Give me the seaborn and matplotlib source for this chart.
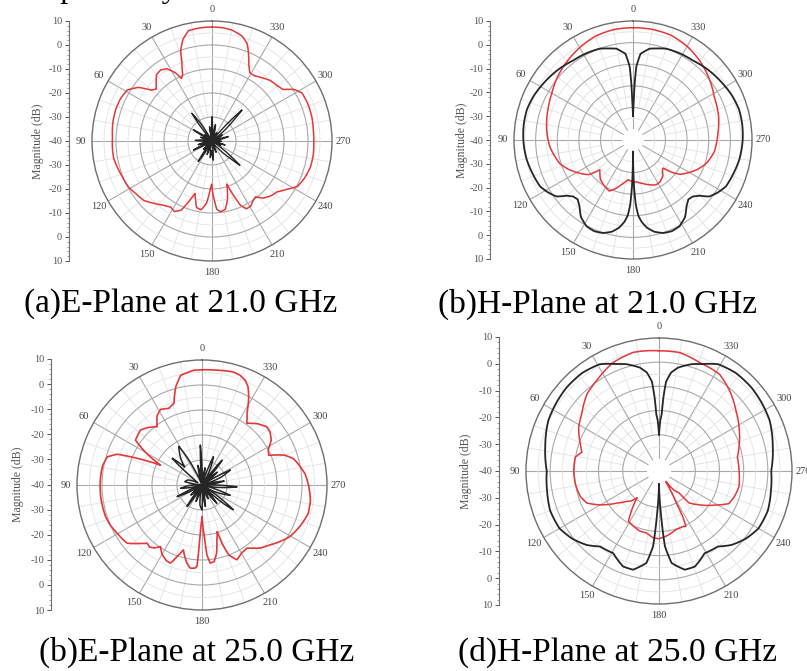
import numpy as np
import matplotlib
matplotlib.use("Agg")
import matplotlib.pyplot as plt
import seaborn as sns
from matplotlib.ticker import FixedLocator

# ---------------- data (angle in degrees, magnitude in dB) ----------------
e21_red_ang = [0, 6, 12, 16, 19, 21, 24, 26, 28, 32, 36, 40, 44, 47, 50, 54, 59, 65, 72, 80, 88, 95,
               100, 105, 112, 119, 125, 131, 137, 143, 148, 152, 156, 159, 162, 164, 167, 171, 175,
               178, 179.5, 181, 184, 187, 191, 195, 199, 201, 204, 207, 211, 215, 218, 222, 227, 232,
               237, 242, 248, 255, 262, 270, 277, 284, 292, 298, 302, 306, 310, 316, 322, 327, 331,
               334, 337, 340, 344, 350, 355, 360]
e21_red_val = [7.5, 7.4, 7.0, 4, 0, -5, -10, -11, -8, -4.5, -3.5, -4, -6.5, -8.3, -7, -2, 1.2, 2.0, 2.2,
               2.0, 1.5, 1.6, 1.6, 1.0, 0.2, -0.3, -1.5, -2.3, -4.5, -6.5, -7.5, -6.7, -8.5, -13, -17,
               -15, -11.5, -11, -14, -20, -22, -18, -11.5, -10.3, -11, -15, -21, -17, -10.5, -8.3, -8.5,
               -10, -10.5, -8, -6.5, -5.6, -3, 0.3, 1.5, 2.4, 2.6, 2.4, 2.5, 2.8, 2.8, 2.5, 0.5, -3.5,
               -4.3, -5, -6.5, -7.6, -7.5, -5, -1, 3, 5.5, 7, 7.4, 7.5]

e21_blk_ang = [0, 3, 6, 10, 14, 22, 30, 33, 36, 38, 41, 50, 55, 59, 62, 66, 72, 78, 88, 94, 105, 110,
               114, 116, 119, 124, 135, 140, 144, 146, 149, 154, 160, 166, 174, 179, 184, 189, 200,
               208, 220, 226, 229, 231, 236, 245, 250, 253, 257, 268, 276, 285, 290, 300, 306, 313,
               316, 318, 322, 330, 338, 348, 354, 360]
e21_blk_val = [-30, -36, -40, -34, -40, -38, -40, -31, -25.7, -31, -40, -36, -38, -31, -36, -40, -35,
               -40, -33, -40, -34, -40, -34, -31.4, -36, -40, -35, -40, -33, -29.7, -35, -40, -34, -40,
               -33, -36, -32, -40, -35, -40, -36, -30, -24.6, -30, -40, -36, -40, -34.3, -40, -36, -40,
               -33, -40, -35, -40, -29, -22, -29, -40, -36, -40, -33, -40, -30]

h21_red_ang = [0, 10, 20, 30, 40, 50, 60, 70, 83, 95, 108, 115, 122, 128, 132, 136, 140, 143, 148, 155,
               160, 165, 170, 173, 177, 180, 185, 192, 200, 207, 213, 220, 224, 227, 230, 234, 238, 245,
               252, 262, 274, 285, 298, 310, 320, 330, 340, 350, 360]
h21_red_val = [6.9, 6.8, 6.0, 4.3, 2.4, 0.5, -1.7, -3.2, -4.8, -6.5, -9.5, -12.5, -16, -19, -24.4, -23,
               -21.5, -20.9, -20, -19, -21, -23.5, -25.5, -26.5, -26, -25.8, -25.5, -24.5, -23, -21.7,
               -22, -23.5, -25.5, -26, -22, -18, -16, -12.5, -9.5, -7, -5.7, -4, -2.5, 0.5, 2.9, 5,
               6.5, 6.9, 6.9]

h21_blk_ang = [0, 1, 1.7, 2.6, 5, 10.3, 14, 20, 28, 37, 47, 58, 66, 74, 82, 90, 100, 108, 116.6, 122,
               126.5, 130, 133.4, 137, 141, 146, 151.7, 157, 162, 167, 171, 174, 176, 177.5, 178.8,
               179.6, 180, 180.4, 181.2, 182.5, 184, 186, 189, 193, 198, 203, 208.3, 214, 219, 223,
               226.6, 230, 233.5, 238, 243.4, 252, 260, 270, 278, 286, 294, 302, 313, 323, 332, 340,
               346, 349.7, 355, 357.4, 358.3, 359, 360]
h21_blk_val = [-34, -28, -19, -11, -5, -2.1, -1.4, -0.1, 0.5, 1, 2.5, 4, 5.2, 6, 6, 5.7, 5, 4, 3, 1,
               -1.1, -5, -7, -7.5, -5.7, -2, 0.3, 0.8, 0.2, -1.5, -4, -7, -10, -15, -24, -33, -40,
               -33, -24, -15, -10, -7, -4, -1.5, 0.2, 0.8, 0.3, -2, -5.7, -7.5, -7, -5, -1.1, 1, 3, 4,
               5, 5.7, 6, 6, 5.2, 4, 2.5, 1, 0.5, -0.1, -1.4, -2.1, -5, -11, -19, -28, -34]

e25_red_ang = [0, 4, 11, 15, 19, 23.5, 28.8, 33, 37.6, 43, 48.3, 56, 60, 64.4, 67, 70, 73.4, 79, 85.3,
               96.5, 108, 114, 119.6, 124, 127.9, 132, 136.7, 140, 143, 146, 150, 155, 158, 160.8, 164,
               166, 169, 172, 175, 176.5, 178, 180, 181, 182.6, 184, 186, 189, 192, 195, 198, 199, 201,
               205, 210, 215.4, 219, 222.6, 228, 234, 239.7, 247, 255, 262, 270, 276, 282, 286, 290,
               294, 298, 303, 308, 312, 318, 324, 328, 332, 335, 337.6, 341, 344.4, 350, 355, 360]
e25_red_val = [6.1, 6.0, 4.7, 0.6, -5.5, -6.6, -5.5, -7, -10.6, -8.5, -7, -7.9, -14, -21.6, -14, -4,
               -0.5, 0.5, 0.7, 0.8, 0.6, 0, -1, -1.5, -2.1, -5, -8, -7.5, -8.5, -10.3, -8, -6.5, -6.3,
               -9.7, -13, -11, -8.2, -6.4, -6.6, -7.4, -22, -27.4, -24, -19.4, -12, -8.6, -9, -12, -17,
               -20.4, -15, -10, -7, -8.5, -9, -7.5, -5.7, -4, -1.5, 0.8, 2.5, 4, 3.8, 2.6, 1.5, -0.5,
               -1.9, -5, -10.8, -10, -7, -5.5, -5.2, -7, -9.5, -6, -0.2, 3.5, 5.3, 6.5, 6.9, 6.5, 6.2,
               6.1]

e25_blk_ang = [0, 2.4, 5, 12, 18, 25, 28, 31, 38, 44, 48, 53, 62, 70, 79, 86, 92, 99, 106, 112, 115,
               122, 132, 140, 143, 145, 152, 160, 167, 174, 180, 184, 189, 196, 204, 212, 219, 225,
               229, 231.7, 237, 244, 250, 256, 262, 267, 272, 280, 286, 292, 298, 303, 310, 315, 321,
               326, 332, 338, 343, 350, 355, 360]
e25_blk_val = [-34, -24, -38, -32, -40, -35, -28, -22, -26, -30, -24, -36, -38, -34, -33, -40, -35,
               -31.3, -40, -34, -29, -40, -34, -40, -33, -29.5, -40, -33, -40, -32, -30, -40, -31.3,
               -40, -34, -40, -30.6, -40, -29, -24, -38, -33, -28, -40, -33, -26, -40, -31, -40, -32,
               -27.2, -40, -32, -40, -27.2, -40, -34, -27.8, -40, -33, -40, -34]

h25_red_ang = [0, 6, 12.3, 23, 34.6, 43, 53.6, 61.5, 71, 76.3, 80.6, 90, 98.5, 108, 114, 120, 127.4,
               133.5, 137, 140.7, 144.9, 148.7, 155, 162.4, 168.6, 175, 180, 186.3, 196.3, 203, 206,
               207.5, 208.5, 211, 213.7, 218, 222.4, 223.2, 229.8, 239, 245, 252, 259, 270, 280, 286.6,
               298.6, 308, 318, 328, 339.5, 350, 360]
h25_red_val = [4.7, 5.0, 5.2, 3.7, 0.4, -1.4, -5.3, -7.2, -10.6, -12.2, -9.9, -9.7, -10, -10.8, -12.4,
               -17, -23.2, -26.8, -28, -30.7, -25.5, -20.7, -19.9, -18.9, -18.9, -17.3, -17, -17.9,
               -19.8, -20, -19.6, -23.9, -30.1, -36, -40, -35, -32.8, -26.9, -23.4, -17.7, -13.1, -12,
               -11.3, -11.9, -12.1, -10.5, -7.3, -4.6, -1, 2.2, 2.9, 4.7, 4.7]

h25_blk_ang = [0, 1.5, 2.7, 3.4, 4.5, 7, 10.5, 17, 21.7, 29, 38, 47.8, 56, 65.5, 78, 90, 100, 110, 120,
               128, 135.6, 142, 150.9, 159.4, 165.3, 172.2, 175.5, 177.5, 179, 180, 181, 182.5, 184.5,
               187.8, 194.7, 200.6, 209, 218, 224.4, 232, 240, 250, 260, 270, 282, 294.5, 304, 312.2,
               322, 331, 338.3, 343, 349.5, 353, 355.5, 356.6, 357.3, 358.5, 360]
h25_blk_val = [-30, -24, -21.6, -14.7, -8, -4, -1.5, 1.2, 2.6, 5.5, 6.5, 6.5, 6, 5.3, 3.1, 1.4, 2, 2.9,
               2.5, 0.5, -2.2, -5.4, -6.1, -2.8, -2.8, -6.6, -13.8, -27.7, -35, -40, -35, -27.7, -13.8,
               -6.6, -2.8, -2.8, -6.1, -5.4, -2.2, 0.5, 2.5, 2.9, 2, 1.4, 3.1, 5.3, 6, 6.5, 6.5, 5.5,
               2.6, 1.2, -1.5, -4, -8, -14.7, -21.6, -24, -30]

angle_ticks = [0, 30, 60, 90, 120, 150, 180, 210, 240, 270, 300, 330]
angle_labels = ["0", "30", "60", "90", "120", "150", "180", "210", "240", "270", "300", "330"]
minor_spokes = [a for a in range(0, 360, 10) if a % 30 != 0]
ring_major = [-30, -20, -10, 0]
ring_minor = [-35, -25, -15, -5, 5]
left_positions = [-50, -40, -30, -20, -10, 0, 10, 20, 30, 40, 50]
left_labels = ["10", "0", "-10", "-20", "-30", "-40", "-30", "-20", "-10", "0", "10"]
captions = ["(a)E-Plane at 21.0 GHz", "(b)H-Plane at 21.0 GHz",
            "(b)E-Plane at 25.0 GHz", "(d)H-Plane at 25.0 GHz"]

RED = "#e4373a"
BLK = "#262626"

# ---------------- figure ----------------
sns.set_theme(style="white")
plt.rcParams["font.family"] = ["Liberation Serif", "DejaVu Serif"]

W, H = 807, 671
fig = plt.figure(figsize=(W / 100, H / 100), dpi=100)
fig.patch.set_facecolor("white")


def panel(cx, cy, R, axx, ytop, ybot, labx, curves, rorigin=None):
    ax = fig.add_axes([(cx - R) / W, 1 - (cy + R) / H, 2 * R / W, 2 * R / H], projection="polar")
    ax.set_theta_zero_location("N")
    ax.set_theta_direction(1)
    if rorigin is not None:
        ax.set_rorigin(rorigin)
    for ang, val, col, lw in curves:
        sns.lineplot(x=np.deg2rad(ang), y=val, ax=ax, sort=False, estimator=None,
                     color=col, linewidth=lw)
    for ln in ax.get_lines():
        ln.get_path()._interpolation_steps = 12
        ln.set_zorder(3)
        ln.set_solid_joinstyle("round")
    # light minor spokes that stop at the innermost major ring
    for a in minor_spokes:
        ax.plot([np.deg2rad(a)] * 2, [-30, 10], color="#e2e2e2", linewidth=0.6, zorder=0.5)
    ax.set_ylim(-40, 10)
    ax.set_xticks(np.deg2rad(angle_ticks))
    ax.set_xticklabels(angle_labels)
    ax.set_yticks(ring_major)
    ax.set_yticklabels([])
    ax.yaxis.set_minor_locator(FixedLocator(ring_minor))
    ax.grid(True, which="major", color="#a9a9a9", linewidth=0.8)
    ax.yaxis.grid(True, which="minor", color="#e2e2e2", linewidth=0.6)
    ax.tick_params(axis="both", which="both", length=0)
    ax.tick_params(axis="x", labelsize=7.5, colors="#444444", pad=1)
    ax.set_xlabel("")
    ax.set_ylabel("")
    ax.spines["polar"].set_color("#6e6e6e")
    ax.spines["polar"].set_linewidth(1.0)
    ax.spines["inner"].set_linewidth(0)
    ax.spines["inner"].set_edgecolor("none")

    la = fig.add_axes([axx / W, 1 - ybot / H, 0.001, (ybot - ytop) / H])
    la.set_ylim(-50, 50)
    la.set_yticks(left_positions)
    la.set_yticklabels(left_labels)
    la.yaxis.set_minor_locator(FixedLocator(np.arange(-50, 51, 2)))
    la.set_xticks([])
    for s in ["top", "right", "bottom"]:
        la.spines[s].set_visible(False)
    la.spines["left"].set_color("#707070")
    la.spines["left"].set_linewidth(0.8)
    la.tick_params(axis="y", which="major", left=True, length=3, width=0.7, direction="out",
                   labelsize=7.5, colors="#555555", pad=2)
    la.tick_params(axis="y", which="minor", left=True, length=1.5, width=0.5, direction="out",
                   colors="#707070")
    la.patch.set_alpha(0)
    fig.text(labx / W, 1 - (ytop + ybot) / 2 / H, "Magnitude (dB)", rotation=90,
             ha="center", va="center", fontsize=8.5, color="#555555")


panel(212, 141, 120, 69, 21, 261, 38,
      [(e21_red_ang, e21_red_val, RED, 1.1), (e21_blk_ang, e21_blk_val, BLK, 1.0)])
panel(633, 140, 119, 490, 21, 259, 462,
      [(h21_red_ang, h21_red_val, RED, 1.1), (h21_blk_ang, h21_blk_val, BLK, 1.3)], rorigin=-45)
panel(202, 485, 125, 51, 359, 610, 18,
      [(e25_red_ang, e25_red_val, RED, 1.2), (e25_blk_ang, e25_blk_val, BLK, 1.1)])
panel(659, 471, 133, 499, 337, 605, 466,
      [(h25_red_ang, h25_red_val, RED, 1.1), (h25_blk_ang, h25_blk_val, BLK, 1.3)], rorigin=-45)

cap_pos = [(181, 304), (598, 304), (197, 652), (618, 652)]
for (x, y), t in zip(cap_pos, captions):
    fig.text(x / W, 1 - y / H, t, ha="center", va="center", fontsize=24, color="black")

# fragment of the preceding text line, cut by the top edge
fig.text(23 / W, 1 + 3 / H, "respectively", ha="left", va="baseline", fontsize=23, color="black")

fig.savefig("out.png", dpi=100, facecolor="white")
